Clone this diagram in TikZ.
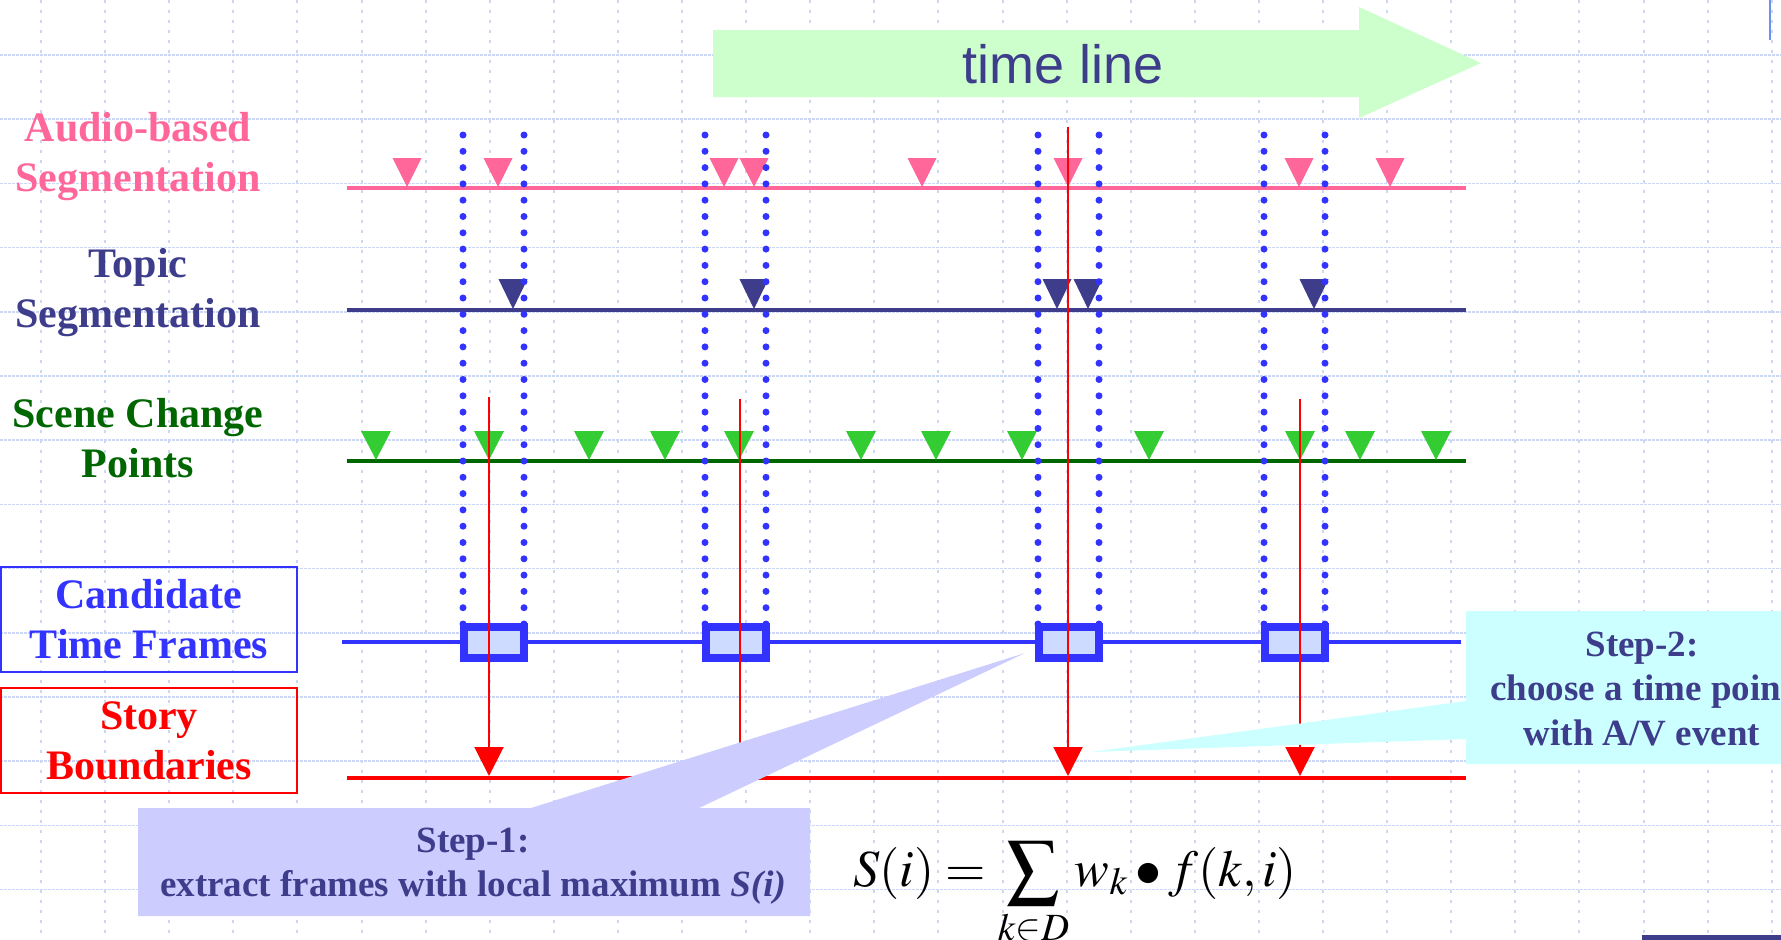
\documentclass[tikz,border=0pt]{standalone}
\usepackage{mathptmx}
\usepackage{fontspec}
\setmainfont{Liberation Serif}
\newfontfamily\tlfont{Liberation Sans}
\usetikzlibrary{arrows.meta}
\definecolor{pinkc}{HTML}{FF6699}
\definecolor{topicc}{HTML}{3D3D8C}
\definecolor{dgreen}{HTML}{006600}
\definecolor{bgreen}{HTML}{33CC33}
\definecolor{bluec}{HTML}{3333FF}
\definecolor{candfill}{HTML}{CCDBFF}
\definecolor{redc}{HTML}{FF0000}
\definecolor{lavc}{HTML}{CCCCFF}
\definecolor{cyanc}{HTML}{CCFFFF}
\definecolor{tlgreen}{HTML}{CCFFCC}
\definecolor{gridc}{HTML}{CCD7F5}
\definecolor{cornerc}{HTML}{7090F0}
\tikzset{
  hgrid/.style={draw=gridc, line width=1.6pt, dash pattern=on 2.5pt off 1.5pt},
  vgrid/.style={draw=gridc, line width=2pt, dash pattern=on 3pt off 7pt},
  lab/.style={font=\bfseries\fontsize{42}{50}\selectfont, align=center, inner sep=0pt},
  steptext/.style={font=\bfseries\fontsize{37}{44.5}\selectfont, align=center, text=topicc, inner sep=0pt},
  track/.style={line width=4pt},
  dotl/.style={draw=bluec, line width=7pt, line cap=round, dash pattern=on 0pt off 16.3pt},
  candbox/.style={draw=bluec, line width=8pt, fill=candfill, minimum width=60pt, minimum height=31pt, inner sep=0pt},
  redline/.style={draw=redc, line width=2pt},
  redarr/.style={redline, -{Triangle[width=29pt,length=29pt]}},
  labbox/.style={draw, line width=2.5pt, minimum width=296pt, minimum height=105pt, inner sep=0pt}
}
\begin{document}
\begin{tikzpicture}[x=1pt,y=-1pt]
\useasboundingbox (0,0) rectangle (1781,940);
\clip (0,0) rectangle (1781,940);
\fill[white] (0,0) rectangle (1781,940);
% grid
\foreach \k in {0,...,13} \draw[hgrid] (0,{55+64.2*\k}) -- (1781,{55+64.2*\k});
\foreach \k in {0,...,27} \draw[vgrid] ({41+64.1*\k},0) -- ({41+64.1*\k},940);
% corner marks
\draw[cornerc, line width=2pt] (1770,0) -- (1770,40);
\fill[topicc] (1642,935) rectangle (1781,940);
% time line arrow
\fill[tlgreen] (713,30) -- (1359,30) -- (1359,7) -- (1481,63) -- (1359,118) -- (1359,97) -- (713,97) -- cycle;
\node[font=\tlfont\fontsize{54}{60}\selectfont, text=topicc, anchor=base, inner sep=0pt] (tltext) at (1063,83) {time line};
% labels
\node[lab, text=pinkc] (audio) at (138,157) {Audio-based\\Segmentation};
\node[lab, text=topicc] (topic) at (138,293) {Topic\\Segmentation};
\node[lab, text=dgreen] (scene) at (138,438) {Scene Change\\Points};
\node[labbox, draw=bluec, lab, text=bluec] (cand) at (149,619.5) {Candidate\\Time Frames};
\node[labbox, draw=redc, lab, text=redc] (story) at (149,740.5) {Story\\Boundaries};
% tracks
\coordinate (pa) at (347,188); \coordinate (pb) at (1466,188);
\coordinate (ta) at (347,310); \coordinate (tb) at (1466,310);
\coordinate (ga) at (347,461); \coordinate (gb) at (1466,461);
\coordinate (ca) at (342,642); \coordinate (cb) at (1461,642);
\coordinate (sa) at (347,778); \coordinate (sb) at (1466,778);
\draw[track, pinkc] (pa) -- (pb);
\draw[track, topicc] (ta) -- (tb);
\draw[track, dgreen] (ga) -- (gb);
\draw[track, bluec] (ca) -- (cb);
\draw[track, redc] (sa) -- (sb);
% triangles
\foreach \x in {407,498,724,754,922,1068,1299,1390}
  \fill[pinkc] ({\x-14.5},158) -- ({\x+14.5},158) -- (\x,187) -- cycle;
\foreach \x in {513,754,1057,1088,1314}
  \fill[topicc] ({\x-14.5},279) -- ({\x+14.5},279) -- (\x,309) -- cycle;
\foreach \x in {376,489,589,665,739,861,936,1022,1149,1300,1360,1436}
  \fill[bgreen] ({\x-15},431) -- ({\x+15},431) -- (\x,460) -- cycle;
% dotted window lines
\foreach \x in {463,524,705,766,1038,1099,1264,1325}
  \draw[dotl] (\x,135) -- (\x,624);
% candidate boxes
\node[candbox] (c1) at (493.5,642.5) {};
\node[candbox] (c2) at (735.5,642.5) {};
\node[candbox] (c3) at (1068.5,642.5) {};
\node[candbox] (c4) at (1294.5,642.5) {};
% red arrows
\coordinate (r1s) at (489,397); \coordinate (r1e) at (489,776);
\coordinate (r2s) at (740,399); \coordinate (r2e) at (740,770);
\coordinate (r3s) at (1068,127); \coordinate (r3e) at (1068,776);
\coordinate (r4s) at (1300,399); \coordinate (r4e) at (1300,776);
\draw[redarr] (r1s) -- (r1e);
\draw[redline] (r2s) -- (r2e);
\draw[redarr] (r3s) -- (r3e);
\draw[redarr] (r4s) -- (r4e);
% step-1 callout
\fill[lavc] (138,808) -- (531,808) -- (1025,653) -- (699,808) -- (810,808) -- (810,916) -- (138,916) -- cycle;
\node[steptext] (step1) at (473,866) {Step-1:\\extract frames with local maximum \textit{S(i)}};
% step-2 callout
\fill[cyanc] (1466,611) -- (1800,611) -- (1800,764) -- (1466,764) -- (1466,739) -- (1091,752) -- (1466,701) -- cycle;
\node[steptext] (step2) at (1642,689) {Step-2:\\choose a time point\\with A/V event};
% formula
\node[anchor=base west, inner sep=0pt, font=\fontsize{52}{60}\selectfont] (formula) at (853,886)
  {$\displaystyle S(i)=\sum_{\raisebox{13pt}{$\scriptstyle k\in D$}} w_k \bullet f(k,i)$};
\end{tikzpicture}
\end{document}
